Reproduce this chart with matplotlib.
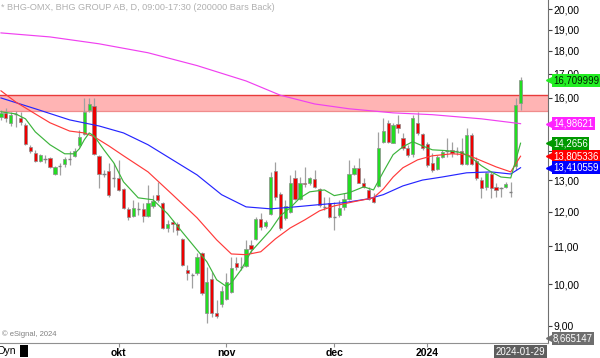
import matplotlib
matplotlib.use("Agg")
import matplotlib.pyplot as plt
from matplotlib.ticker import FixedLocator, NullLocator

plt.rcParams['font.family'] = ['Liberation Sans', 'DejaVu Sans']

# daily OHLC, BHG 2023-08-29 .. 2024-01-29
opens = [15.25, 15.40, 15.02, 15.35, 15.21, 14.94, 14.14, 13.93, 13.65, 13.72,
         13.75, 13.20, 13.48, 13.54, 13.72, 13.82, 14.21, 14.61, 15.52, 15.67,
         13.82, 13.20, 13.31, 13.07, 13.07, 12.71, 12.09, 11.88, 12.09, 12.09,
         11.88, 12.18, 12.53, 12.28, 11.52, 11.70, 11.64, 11.21, 10.37, 10.24,
         10.29, 10.82, 9.30, 10.14, 9.30, 9.51, 9.64, 9.81, 10.55, 10.45,
         10.47, 11.04, 11.21, 11.79, 11.58, 11.94, 13.31, 12.56, 11.82, 12.00,
         13.07, 12.40, 12.90, 12.90, 13.03, 12.71, 12.15, 12.28, 11.85, 11.91,
         12.15, 12.40, 13.20, 13.41, 12.90, 12.68, 12.46, 12.81, 14.32, 15.02,
         14.28, 14.98, 14.46, 14.10, 13.89, 15.02, 14.61, 14.25, 13.58, 13.37,
         13.79, 14.00, 14.03, 14.00, 14.00, 13.54, 14.57, 13.65, 13.00, 12.78,
         13.20, 12.78, 12.74, 12.78, 12.62, 13.48, 15.79]
highs = [15.52, 15.60, 15.44, 15.48, 15.44, 15.02, 14.21, 14.03, 13.89, 13.86,
         13.79, 13.48, 13.58, 13.79, 14.00, 14.10, 14.75, 15.99, 15.99, 15.99,
         13.86, 13.34, 13.58, 13.58, 13.68, 12.74, 12.15, 12.37, 12.31, 12.28,
         12.84, 12.53, 12.94, 12.31, 11.76, 11.76, 11.70, 11.24, 10.50, 10.29,
         10.82, 10.85, 10.45, 10.32, 9.61, 9.94, 10.29, 10.71, 10.71, 10.71,
         11.18, 11.18, 11.85, 11.97, 11.76, 13.27, 13.61, 12.62, 12.37, 13.17,
         13.34, 13.10, 13.44, 13.10, 13.34, 12.74, 12.46, 12.46, 12.31, 12.37,
         12.59, 13.68, 13.51, 13.75, 13.07, 12.78, 12.59, 14.68, 15.21, 15.13,
         15.02, 15.33, 14.64, 14.21, 15.33, 15.44, 14.64, 14.32, 13.93, 13.86,
         14.03, 14.46, 14.32, 14.14, 14.46, 14.83, 14.64, 13.79, 13.10, 13.27,
         13.27, 12.90, 12.78, 12.94, 12.94, 15.99, 16.86]
lows = [15.13, 15.05, 14.90, 14.86, 14.94, 14.21, 13.93, 13.61, 13.61, 13.58,
        13.41, 13.17, 13.17, 13.44, 13.51, 13.79, 14.14, 14.57, 15.44, 13.86,
        12.74, 13.10, 12.46, 12.78, 12.66, 12.09, 11.76, 11.85, 11.91, 11.70,
        11.85, 12.12, 12.31, 11.49, 11.40, 11.40, 11.32, 10.47, 10.11, 9.91,
        10.24, 9.74, 9.07, 9.21, 9.19, 9.44, 9.61, 9.79, 10.37, 10.37,
        10.45, 10.82, 11.18, 11.46, 11.52, 11.91, 12.37, 11.46, 11.76, 11.97,
        12.37, 12.37, 12.78, 12.84, 12.74, 12.15, 12.06, 11.82, 11.46, 11.85,
        12.06, 12.37, 13.17, 12.90, 12.74, 12.37, 12.28, 12.78, 14.28, 14.28,
        14.28, 14.64, 14.03, 13.79, 13.79, 14.57, 14.03, 13.44, 13.27, 13.34,
        13.75, 13.79, 13.79, 13.86, 13.51, 13.51, 13.51, 13.00, 12.43, 12.68,
        12.43, 12.46, 12.46, 12.74, 12.46, 13.34, 15.52]
closes = [15.40, 15.21, 15.33, 15.35, 15.05, 14.25, 14.00, 13.65, 13.86, 13.72,
          13.44, 13.44, 13.48, 13.72, 13.72, 14.00, 14.50, 15.44, 15.75, 13.89,
          13.20, 13.20, 12.53, 13.07, 12.68, 12.12, 11.85, 12.12, 12.09, 11.88,
          12.28, 12.34, 12.37, 11.52, 11.64, 11.64, 11.46, 10.50, 10.29, 10.24,
          10.71, 9.79, 10.06, 9.30, 9.23, 9.84, 10.06, 10.42, 10.45, 10.45,
          10.93, 10.93, 11.79, 11.55, 11.70, 13.10, 12.46, 11.52, 12.18, 12.90,
          12.40, 12.90, 12.87, 13.07, 12.78, 12.22, 12.15, 11.85, 11.85, 12.12,
          12.40, 13.20, 13.41, 12.90, 12.78, 12.40, 12.31, 14.10, 14.71, 14.32,
          14.94, 14.83, 14.10, 13.86, 15.21, 14.64, 14.10, 13.51, 13.34, 13.79,
          13.96, 14.00, 13.93, 14.00, 13.54, 14.57, 13.54, 13.07, 12.74, 13.24,
          12.74, 12.68, 12.74, 12.87, 12.62, 15.71, 16.71]

# moving averages (bar index, value)
ma10_idx = [0, 3, 5, 7, 10, 13, 15, 16, 17, 18, 19, 21, 23, 25, 28, 31, 34, 37, 40, 42,
            44, 46, 47, 49, 51, 53, 55, 57, 59, 61, 63, 66, 68, 71, 74, 76, 78, 80, 82, 84,
            86, 88, 91, 94, 96, 98, 100, 102, 104, 106]
ma10 = [15.44, 15.36, 15.17, 14.68, 14.21, 13.89, 13.89, 14.07, 14.39, 14.64, 14.53, 14.03,
        13.58, 12.94, 12.43, 12.37, 11.94, 11.40, 10.90, 10.58, 10.11, 9.94, 10.03, 10.37,
        10.85, 11.15, 11.46, 11.88, 12.12, 12.43, 12.62, 12.68, 12.50, 12.59, 12.78, 12.68,
        13.27, 13.86, 14.14, 14.32, 14.17, 14.03, 14.00, 13.93, 13.75, 13.48, 13.27, 13.10,
        13.07, 14.2656]
ma20_idx = [0, 3, 7, 10, 14, 17, 19, 22, 25, 30, 35, 40, 44, 47, 50, 53, 56, 59, 62, 65,
            68, 72, 76, 78, 80, 82, 85, 88, 92, 95, 98, 101, 104, 106]
ma20 = [16.28, 15.83, 15.36, 15.02, 14.71, 14.64, 14.50, 14.17, 13.82, 13.27, 12.53, 11.82,
        11.18, 10.79, 10.77, 10.85, 11.21, 11.52, 11.76, 12.03, 12.18, 12.31, 12.43, 12.71,
        13.10, 13.41, 13.68, 13.82, 13.89, 13.86, 13.65, 13.44, 13.27, 13.805336]
ma50_idx = [0, 7, 14, 20, 25, 30, 35, 40, 45, 50, 55, 60, 65, 70, 75, 78, 82, 86, 90, 95,
            100, 104, 106]
ma50 = [15.99, 15.56, 15.13, 14.90, 14.64, 14.21, 13.68, 13.17, 12.53, 12.15, 12.09, 12.15,
        12.22, 12.28, 12.40, 12.53, 12.81, 13.00, 13.10, 13.24, 13.27, 13.20, 13.410559]
ma200_idx = [0, 10, 20, 30, 40, 50, 57, 64, 71, 80, 88, 98, 106]
ma200 = [18.84, 18.65, 18.33, 17.92, 17.35, 16.69, 16.10, 15.75, 15.56, 15.40, 15.33,
         15.17, 14.98621]

zone = (15.48, 16.11)
low_mark = 8.665147
price_ticks = [9, 10, 11, 12, 13, 14, 15, 16, 17, 18, 19, 20]
month_pos = [24, 46, 68, 87]
month_labels = ['okt', 'nov', 'dec', '2024']

W, H = 600, 358
fig = plt.figure(figsize=(6, 3.58), dpi=100)
ax = fig.add_axes([0, 1 - 343 / H, 548 / W, 343 / H])
ax.set_yscale('log')
ax.set_ylim(8.62, 20.47)
ax.set_xlim(-0.2, 111.6)

ax.axhspan(zone[0], zone[1], color='#ffb4b4', zorder=0, lw=0)
ax.axhline(zone[1], color='#e83a3a', lw=1.0, zorder=1)
ax.axhline(zone[0], color='#f08c8c', lw=0.9, zorder=1)

x = list(range(len(closes)))
ax.vlines(x, lows, highs, color='#a0a0a0', lw=0.9, zorder=2)
for i in x:
    o, c = opens[i], closes[i]
    if abs(c - o) < 0.005:
        ax.hlines(o, i - 0.33, i + 0.33, color='#808080', lw=1.0, zorder=3)
        continue
    col = '#22dd22' if c > o else '#ee0000'
    ax.bar(i, abs(c - o), bottom=min(o, c), width=0.66, color=col,
           edgecolor='#8c8c8c', linewidth=0.5, zorder=3)

ax.plot(ma200_idx, ma200, color='#f040f0', lw=0.85, zorder=4)
ax.plot(ma50_idx, ma50, color='#2525ff', lw=0.85, zorder=4)
ax.plot(ma20_idx, ma20, color='#ff3a3a', lw=0.85, zorder=4)
ax.plot(ma10_idx, ma10, color='#3cb43c', lw=0.85, zorder=4)

for s in ['top', 'left']:
    ax.spines[s].set_visible(False)
ax.spines['right'].set_color('#707070')
ax.spines['bottom'].set_color('#909090')

ax.yaxis.tick_right()
ax.yaxis.set_major_locator(FixedLocator(price_ticks))
ax.yaxis.set_minor_locator(NullLocator())
ax.set_yticklabels([f'{v},00' for v in price_ticks])
ax.tick_params(axis='y', which='major', direction='out', length=3, width=0.8,
               color='#404040', pad=1, labelsize=7.5)
ax.set_xticks(month_pos)
ax.set_xticklabels(month_labels, fontweight='bold')
ax.tick_params(axis='x', direction='out', length=3, color='#909090', pad=0.5,
               labelsize=7.5)

yt = ax.get_yaxis_transform()


def tag(val, text, fc, tc, shown=None):
    y = val if shown is None else shown
    ax.plot([1.004], [y], marker='<', ms=5.5, color=fc, transform=yt,
            clip_on=False, zorder=10)
    ax.text(1.009, y, text, transform=yt, ha='left', va='center', fontsize=6.9,
            color=tc, zorder=11, clip_on=False,
            bbox=dict(boxstyle='square,pad=0.14', fc=fc, ec='none'))


tag(closes[-1], '16,709999', '#22ee22', '#002200')
tag(ma200[-1], '14,98621', '#ff22ff', 'white')
tag(ma10[-1], '14,2656', '#009900', 'white')
tag(ma20[-1], '13,805336', '#ff0000', 'white')
tag(ma50[-1], '13,410559', '#0000ff', 'white')
tag(low_mark, '8,665147', '#6e6e6e', 'white', shown=8.72)

fig.text(0.001, 1 - 8 / H, '* BHG-OMX, BHG GROUP AB, D, 09:00-17:30 (200000 Bars Back)',
         fontsize=6.6, color='#b0b0b0', va='center', ha='left')
fig.text(2 / W, 1 - 334 / H, '\u00a9 eSignal, 2024', fontsize=5.5, color='#808080',
         va='center', ha='left')
fig.text(-3 / W, 1 - 351 / H, 'Dyn', fontsize=7.5, color='black', va='center', ha='left')
fig.patches.append(plt.Rectangle((20 / W, 1 - 357 / H), 8 / W, 12 / H,
                                 transform=fig.transFigure, fc='black', ec='none'))
ax.text(106, -0.026, '2024-01-29', transform=ax.get_xaxis_transform(), ha='center',
        va='center', fontsize=7, color='white', clip_on=False,
        bbox=dict(boxstyle='square,pad=0.15', fc='#5e5e5e', ec='none'))

fig.savefig('out.png', dpi=100)
